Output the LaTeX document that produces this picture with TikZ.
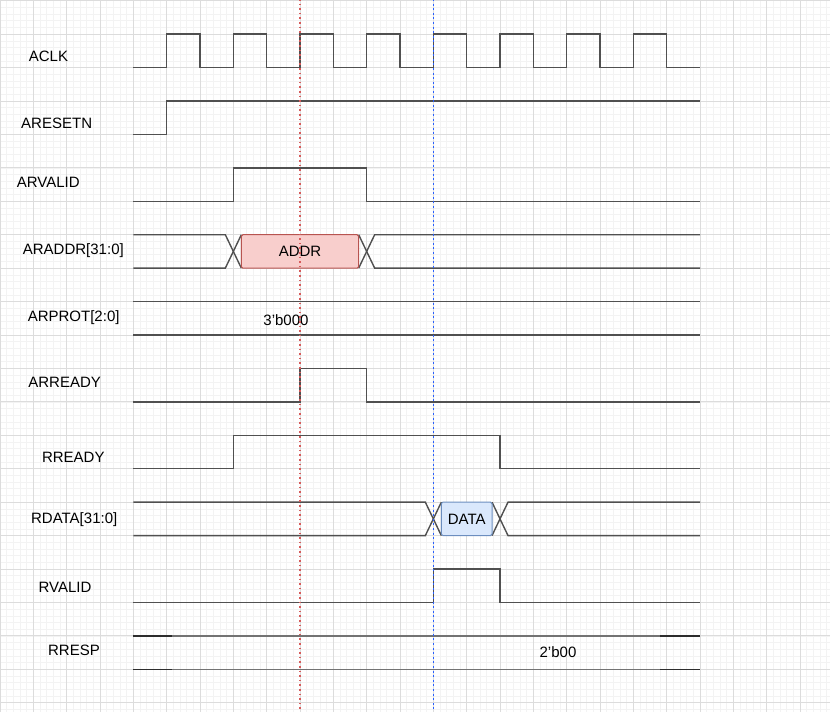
\documentclass[tikz,border=0pt]{standalone}
\usepackage{fontspec}
\setmainfont{Liberation Sans}
\definecolor{sigc}{RGB}{80,80,80}
\definecolor{sigdark}{RGB}{45,45,45}
\definecolor{siglight}{RGB}{115,115,115}
\definecolor{gridminor}{RGB}{243,243,243}
\definecolor{gridmajor}{RGB}{220,220,220}
\definecolor{redfill}{RGB}{248,206,204}
\definecolor{redline}{RGB}{184,84,80}
\definecolor{bluefill}{RGB}{218,232,252}
\definecolor{blueline}{RGB}{108,142,191}
\definecolor{reddotc}{RGB}{215,90,90}
\definecolor{mkblue}{RGB}{40,95,255}
\begin{document}
\begin{tikzpicture}[x=33.333pt,y=-33.43pt,
  minorgrid/.style={draw=gridminor,line width=0.6pt},
  majorgrid/.style={draw=gridmajor,line width=0.8pt},
  sig/.style={draw=sigc,line width=1.4pt,line join=miter},
  lbl/.style={font=\fontsize{15}{18}\selectfont,text height=10.7pt,text depth=0pt,inner sep=0pt,text=black},
  addrbox/.style={lbl,draw=redline,fill=redfill,line width=1pt,rounded corners=1.5pt,minimum width=117.3pt,minimum height=33.43pt},
  databox/.style={lbl,draw=blueline,fill=bluefill,line width=1pt,rounded corners=1.5pt,minimum width=50.7pt,minimum height=33.43pt},
  reddot/.style={draw=reddotc,line width=1.2pt,dash pattern=on 1.6pt off 3pt},
  bluedot/.style={draw=mkblue,line width=1.5pt,dash pattern=on 2pt off 2.6pt}]
\useasboundingbox (0,-0.0209) rectangle (24.9,21.277);
% grid
\foreach \i in {0,...,124} \draw[minorgrid] (\i/5,-0.05) -- (\i/5,21.3);
\foreach \j in {0,...,106} \draw[minorgrid] (0,\j/5) -- (24.9,\j/5);
\foreach \i in {0,...,24} \draw[majorgrid] (\i,-0.05) -- (\i,21.3);
\foreach \j in {0,...,21} \draw[majorgrid] (0,\j) -- (24.9,\j);
% labels
\node[lbl] (l-aclk) at (1.455,1.648) {ACLK};
\node[lbl] (l-aresetn) at (1.70,3.66) {ARESETN};
\node[lbl] (l-arvalid) at (1.449,5.44) {ARVALID};
\node[lbl] (l-araddr) at (2.2,7.43) {ARADDR[31:0]};
\node[lbl] (l-arprot) at (2.21,9.45) {ARPROT[2:0]};
\node[lbl] (l-arready) at (1.94,11.42) {ARREADY};
\node[lbl] (l-rready) at (2.2,13.66) {RREADY};
\node[lbl] (l-rdata) at (2.226,15.47) {RDATA[31:0]};
\node[lbl] (l-rvalid) at (1.95,17.55) {RVALID};
\node[lbl] (l-rresp) at (2.22,19.42) {RRESP};
% ACLK
\draw[sig] (4,2) -- (5,2) -- (5,1) -- (6,1) -- (6,2) -- (7,2) -- (7,1) -- (8,1) -- (8,2)
  -- (9,2) -- (9,1) -- (10,1) -- (10,2) -- (11,2) -- (11,1) -- (12,1) -- (12,2)
  -- (13,2) -- (13,1) -- (14,1) -- (14,2) -- (15,2) -- (15,1) -- (16,1) -- (16,2)
  -- (17,2) -- (17,1) -- (18,1) -- (18,2) -- (19,2) -- (19,1) -- (20,1) -- (20,2) -- (21,2);
% ARESETN
\draw[sig] (4,4) -- (5,4) -- (5,3) -- (21,3);
% ARVALID
\draw[sig] (4,6) -- (7,6) -- (7,5) -- (11,5) -- (11,6) -- (21,6);
% ARADDR
\draw[sig] (4,7) -- (6.76,7) -- (7.24,8);
\draw[sig] (4,8) -- (6.76,8) -- (7.24,7);
\draw[sig] (10.76,7) -- (11.24,8) -- (21,8);
\draw[sig] (10.76,8) -- (11.24,7) -- (21,7);
\node[addrbox] (addr) at (9,7.5) {ADDR};
% ARPROT
\draw[sig] (4,9) -- (21,9);
\draw[sig] (4,10) -- (21,10);
\node[lbl] (arprotval) at (8.58,9.55) {3’b000};
% ARREADY
\draw[sig] (4,12) -- (9,12) -- (9,11) -- (11,11) -- (11,12) -- (21,12);
% RREADY
\draw[sig] (4,14) -- (7,14) -- (7,13) -- (15,13) -- (15,14) -- (21,14);
% RDATA
\draw[sig] (4,15) -- (12.76,15) -- (13.24,16);
\draw[sig] (4,16) -- (12.76,16) -- (13.24,15);
\draw[sig] (14.76,15) -- (15.24,16) -- (21,16);
\draw[sig] (14.76,16) -- (15.24,15) -- (21,15);
\node[databox] (data) at (14,15.5) {DATA};
% RVALID
\draw[sig] (4,18) -- (13,18) -- (13,17) -- (15,17) -- (15,18) -- (21,18);
% RRESP
\draw[sig,draw=siglight] (4,19) -- (21,19);
\draw[sig,draw=siglight] (4,20) -- (21,20);
\draw[sig,draw=sigdark] (4,19) -- (5.16,19);
\draw[sig,draw=sigdark] (4,20) -- (5.16,20);
\draw[sig,draw=sigdark] (19.8,19) -- (21,19);
\draw[sig,draw=sigdark] (19.8,20) -- (21,20);
\node[lbl] (rrespval) at (16.74,19.48) {2’b00};
% markers
\draw[reddot] (9,-0.05) -- (9,21.3);
\draw[bluedot] (13,-0.05) -- (13,21.3);
\end{tikzpicture}
\end{document}
